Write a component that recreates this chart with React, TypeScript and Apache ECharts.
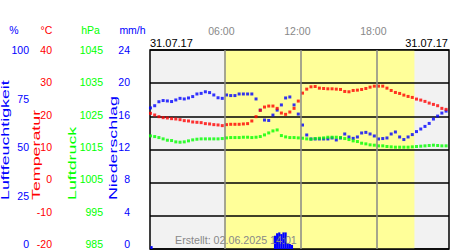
import React, { useEffect, useRef } from "react";
import * as echarts from "echarts";

const FONT = "'Liberation Sans', Arial, sans-serif";
const BLUE = "#0000ff";
const RED = "#ff0000";
const GREEN = "#00ff00";

// measurement times, minutes after midnight (31.07.17)
const timesMin = [
  10, 30, 50, 70, 90, 110, 130, 150, 170, 190,
  210, 230, 250, 270, 290, 310, 330, 350, 370, 390,
  410, 430, 450, 470, 490, 510, 530, 550, 570, 590,
  610, 630, 650, 670, 690, 710, 730, 750, 770, 790,
  810, 830, 850, 870, 890, 910, 930, 950, 970, 990,
  1010, 1030, 1050, 1070, 1090, 1110, 1130, 1150, 1170, 1190,
  1210, 1230, 1250, 1270, 1290, 1310, 1330, 1350, 1370, 1390, 1410,
];

// Luftfeuchtigkeit, %
const humidity = [
  70.9, 72.0, 74.0, 74.6, 74.4, 74.1, 74.9, 75.7, 75.4, 75.9,
  76.6, 77.9, 78.2, 79.0, 78.6, 77.4, 76.0, 75.7, 77.4, 77.1,
  77.1, 77.9, 77.9, 77.9, 77.9, 75.4, 69.8, 64.8, 64.6, 67.3,
  69.8, 72.4, 75.9, 76.4, 72.4, 67.8, 62.3, 57.3, 55.3, 55.3,
  55.3, 55.3, 55.3, 55.8, 54.8, 55.8, 57.8, 56.3, 55.6, 56.3,
  58.3, 58.6, 57.8, 56.8, 55.3, 55.5, 55.8, 57.8, 58.8, 56.3,
  55.0, 56.3, 57.5, 59.0, 60.3, 61.6, 63.1, 65.3, 66.8, 68.3, 69.3,
];

// Temperatur, °C
const temperature = [
  20.9, 20.4, 19.9, 19.6, 19.5, 19.3, 19.2, 19.0, 18.7, 18.6,
  18.3, 18.2, 18.1, 17.8, 17.7, 17.5, 17.4, 17.2, 17.5, 17.6,
  17.6, 17.6, 17.7, 17.8, 18.6, 19.9, 21.8, 22.8, 23.1, 23.1,
  22.4, 21.0, 20.6, 21.3, 22.4, 24.6, 27.0, 28.2, 28.9, 29.0,
  28.5, 28.4, 28.3, 28.3, 28.2, 28.1, 27.5, 27.4, 27.8, 27.9,
  28.1, 28.4, 28.8, 29.1, 29.1, 29.1, 28.5, 27.8, 27.2, 26.9,
  26.4, 26.0, 25.7, 25.2, 24.9, 24.5, 24.0, 23.6, 23.2, 22.4, 22.1,
];

// Luftdruck, hPa
const pressure = [
  1019.1, 1018.9, 1018.6, 1018.2, 1017.8, 1017.7, 1017.3, 1017.2, 1017.3, 1017.6,
  1017.9, 1018.1, 1018.2, 1018.2, 1018.2, 1018.2, 1018.2, 1018.3, 1018.5, 1018.6,
  1018.6, 1018.6, 1018.7, 1018.7, 1018.6, 1018.7, 1018.9, 1019.4, 1020.0, 1020.6,
  1020.9, 1019.2, 1018.8, 1018.6, 1018.6, 1018.5, 1018.4, 1018.2, 1018.1, 1018.3,
  1018.4, 1018.5, 1018.7, 1018.7, 1018.7, 1018.6, 1018.3, 1018.0, 1017.6, 1017.4,
  1016.9, 1016.7, 1016.4, 1016.3, 1016.1, 1016.1, 1015.9, 1015.8, 1015.7, 1015.7,
  1015.7, 1015.7, 1015.8, 1015.9, 1016.0, 1016.1, 1016.2, 1016.3, 1016.2, 1016.1, 1016.1,
];

// Niederschlag, mm/h
const rainTimesMin = [15, 600, 610, 620, 630, 640, 650, 660, 670, 680];
const rain = [0.35, 1.6, 1.9, 2.0, 1.8, 2.0, 2.0, 0.7, 0.6, 0.5];

const hourTicks = [6, 12, 18];
const daylight = [6, 21];
const pressureOffset = 1005; // pressure label = temperature tick + 1005
const dateLabel = "31.07.17";
const createdLabel = "Erstellt: 02.06.2025 14:01";

const X_MIN = 0.13;
const X_MAX = 23.73;

const toPairs = (t: number[], v: number[]) => t.map((m, i) => [m / 60, v[i]]);

export default function App() {
  const ref = useRef<HTMLDivElement>(null);
  useEffect(() => {
    if (!ref.current) return;
    const chart = echarts.init(ref.current, undefined, { renderer: "svg" });
    const hiddenAxis = (min: number, max: number) => ({
      gridIndex: 0,
      type: "value",
      min,
      max,
      show: false,
    });
    const labelAxis = (min: number, max: number, interval: number, offset: number, color: string, fmt?: (v: number) => string) => ({
      gridIndex: 1,
      type: "value",
      position: "left",
      min,
      max,
      interval,
      offset,
      axisLine: { show: false },
      axisTick: { show: false },
      splitLine: { show: false },
      axisLabel: { color, fontSize: 10.5, fontFamily: FONT, margin: 0, formatter: fmt },
    });
    const vText = (text: string, x: number, color: string) => ({
      type: "text",
      x,
      y: 200,
      rotation: Math.PI / 2,
      scaleX: 1.62,
      style: {
        text,
        fill: color,
        font: `11px ${FONT}`,
        textAlign: "left",
        textVerticalAlign: "middle",
        align: "left",
        verticalAlign: "middle",
      },
    });
    const hText = (text: string, x: number, y: number, color: string, align = "center", size = 10.5) => ({
      type: "text",
      x,
      y,
      z: 10,
      style: {
        text,
        fill: color,
        font: `${size}px ${FONT}`,
        textAlign: align,
        textVerticalAlign: "middle",
        align,
        verticalAlign: "middle",
      },
    });
    const option: any = {
      animation: false,
      textStyle: { fontFamily: FONT },
      grid: [
        { left: 150, top: 50, width: 299, height: 199, show: true, backgroundColor: "#f2f2f2", borderColor: "#000", borderWidth: 1.5 },
        { left: 150, top: 50, width: 299, height: 194, show: false },
      ],
      xAxis: [
        {
          gridIndex: 0,
          type: "value",
          min: X_MIN,
          max: X_MAX,
          position: "top",
          axisLine: { show: false },
          axisTick: { show: false },
          splitLine: { show: false },
          axisLabel: {
            customValues: hourTicks,
            formatter: (v: number) => String(Math.round(v)).padStart(2, "0") + ":00",
            color: "#888",
            fontSize: 10.5,
            fontFamily: FONT,
            margin: 14,
            padding: [0, 6, 0, 0],
          },
        },
        { gridIndex: 1, type: "value", min: 0, max: 1, show: false },
      ],
      yAxis: [
        labelAxis(0, 100, 25, 121, BLUE),
        labelAxis(-20, 40, 10, 98, RED),
        labelAxis(-20, 40, 10, 47, GREEN, (v: number) => String(v + pressureOffset)),
        labelAxis(0, 24, 4, 20, BLUE),
        hiddenAxis(0, 100),
        {
          gridIndex: 0,
          type: "value",
          min: -20,
          max: 40,
          interval: 10,
          z: 1.5,
          axisLine: { show: false },
          axisTick: { show: false },
          axisLabel: { show: false },
          splitLine: { show: true, lineStyle: { color: "#000", width: 1.5 } },
        },
        hiddenAxis(985, 1045),
        hiddenAxis(0, 24),
      ],
      series: [
        {
          type: "scatter",
          xAxisIndex: 0,
          yAxisIndex: 5,
          data: [],
          z: 1,
          silent: true,
          markArea: {
            silent: true,
            itemStyle: { color: "#ffff99" },
            data: [[{ xAxis: daylight[0] }, { xAxis: daylight[1] }]],
          },
        },
        {
          type: "scatter",
          xAxisIndex: 0,
          yAxisIndex: 5,
          data: [],
          z: 1.2,
          silent: true,
          markLine: {
            silent: true,
            symbol: "none",
            label: { show: false },
            lineStyle: { color: "#888", width: 1.5, type: "solid" },
            data: hourTicks.map((h) => ({ xAxis: h })),
          },
        },
        {
          type: "bar",
          xAxisIndex: 0,
          yAxisIndex: 7,
          data: toPairs(rainTimesMin, rain),
          barWidth: 2.2,
          itemStyle: { color: BLUE },
          z: 2,
        },
        {
          type: "scatter",
          xAxisIndex: 0,
          yAxisIndex: 4,
          data: toPairs(timesMin, humidity),
          symbol: "rect",
          symbolSize: 3,
          itemStyle: { color: BLUE },
          z: 3,
        },
        {
          type: "scatter",
          xAxisIndex: 0,
          yAxisIndex: 5,
          data: toPairs(timesMin, temperature),
          symbol: "rect",
          symbolSize: 3,
          itemStyle: { color: RED },
          z: 3,
        },
        {
          type: "scatter",
          xAxisIndex: 0,
          yAxisIndex: 6,
          data: toPairs(timesMin, pressure),
          symbol: "rect",
          symbolSize: 3,
          itemStyle: { color: GREEN },
          z: 3,
        },
      ],
      graphic: [
        hText("%", 14, 30, BLUE),
        hText("°C", 46.5, 30, RED),
        hText("hPa", 90.5, 30, GREEN),
        hText("mm/h", 132.5, 30, BLUE),
        hText(dateLabel, 150, 43, "#000", "left", 11),
        hText(dateLabel, 448, 43, "#000", "right", 11),
        hText(createdLabel, 175, 240, "#888", "left", 10.7),
        vText("Luftfeuchtigkeit", 5.5, BLUE),
        vText("Temperatur", 36.5, RED),
        vText("Luftdruck", 72, GREEN),
        vText("Niederschlag", 113.5, BLUE),
      ],
    };
    chart.setOption(option);
    return () => chart.dispose();
  }, []);
  return (
    <div
      ref={ref}
      style={{ position: "absolute", left: 0, top: 0, width: 450, height: 250, background: "#fff" }}
    />
  );
}
